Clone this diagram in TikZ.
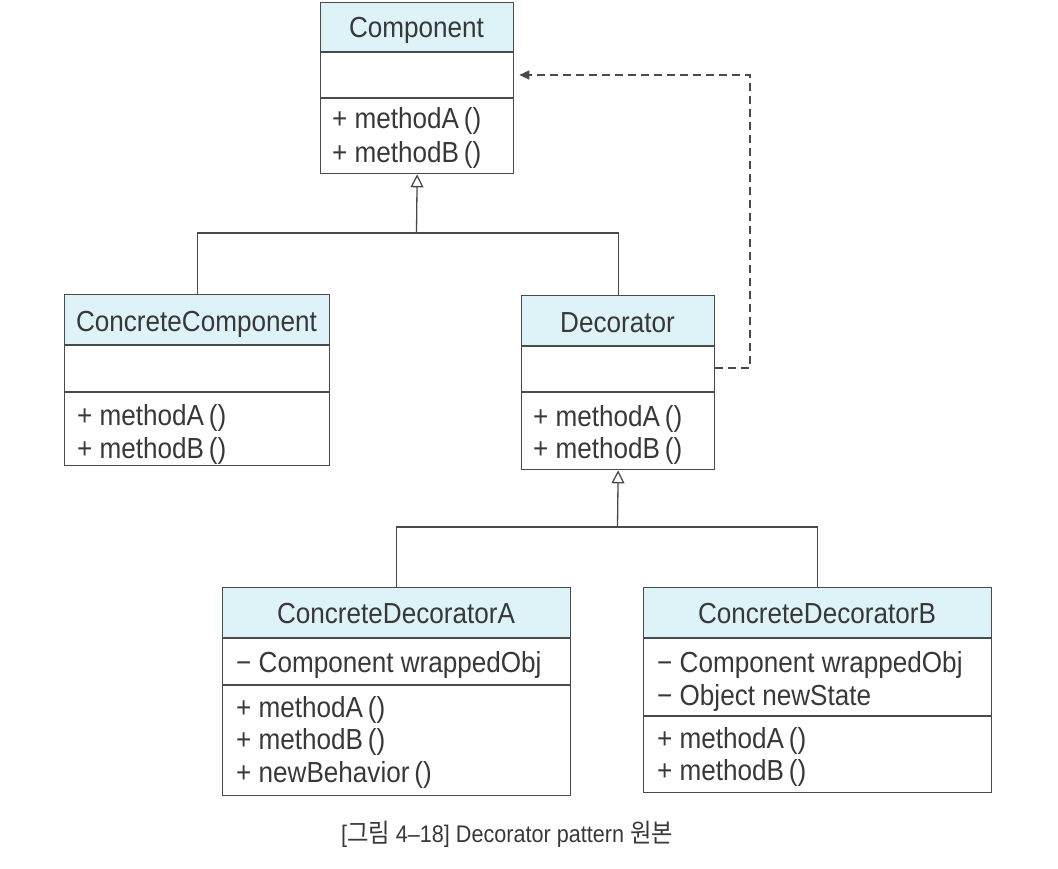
\documentclass[tikz,border=0pt]{standalone}
\usepackage{fontspec}
\setmainfont{Liberation Sans}[FakeStretch=0.9]
\newfontfamily\krfont{Noto Sans CJK KR}[FakeStretch=0.9, Scale=1.08]
\usetikzlibrary{arrows.meta}
\definecolor{hdr}{HTML}{DDF3F8}
\definecolor{ln}{HTML}{4A4A4A}
\definecolor{tx}{HTML}{383838}
\tikzset{
  box/.style={draw=ln, line width=1.3pt, inner sep=0pt, anchor=north west},
  sepline/.style={draw=ln, line width=1.3pt},
  titletext/.style={anchor=base, inner sep=0pt, text=tx, font=\fontsize{29}{34}\selectfont},
  memtext/.style={anchor=base west, inner sep=0pt, text=tx, font=\fontsize{29}{34}\selectfont},
  conn/.style={draw=ln, line width=1.3pt},
  inh/.style={conn, -{Triangle[open, length=13pt, width=13pt, line width=1.3pt]}},
  dep/.style={conn, dash pattern=on 8pt off 5pt, -{Triangle[length=10pt, width=9pt]}, shorten >=5pt},
}
% #1 name, #2 x1, #3 y1, #4 x2, #5 y2, #6 header line, #7 attribute line
\newcommand\umlclassbox[7]{%
  \fill[hdr] (#2,#3) rectangle (#4,#6);
  \node[box, minimum width={#4-#2}, minimum height={#5-#3}] (#1) at (#2,#3) {};
  \draw[sepline] (#2,#6) -- (#4,#6) (#2,#7) -- (#4,#7);
}
\begin{document}
\begin{tikzpicture}[x=1pt, y=-1pt]
\useasboundingbox (0,0) rectangle (1058,868);

% Component
\umlclassbox{comp}{320}{2}{513}{173}{52}{98}
\node[titletext] (compT) at (416.5,37) {Component};
\node[memtext] (compM1) at (332,128) {+ methodA\,()};
\node[memtext] (compM2) at (332,162) {+ methodB\,()};

% ConcreteComponent
\umlclassbox{cc}{64}{294}{329}{465}{345}{392}
\node[titletext] (ccT) at (196.5,331) {ConcreteComponent};
\node[memtext] (ccM1) at (77,425) {+ methodA\,()};
\node[memtext] (ccM2) at (77,458) {+ methodB\,()};

% Decorator
\umlclassbox{dec}{521}{295}{714}{469}{346}{392}
\node[titletext] (decT) at (617.5,332) {Decorator};
\node[memtext] (decM1) at (533,426) {+ methodA\,()};
\node[memtext] (decM2) at (533,458) {+ methodB\,()};

% ConcreteDecoratorA
\umlclassbox{cda}{222}{587}{570}{795}{638}{685}
\node[titletext] (cdaT) at (396,623) {ConcreteDecoratorA};
\node[memtext] (cdaA1) at (236,672) {− Component wrappedObj};
\node[memtext] (cdaM1) at (236,717) {+ methodA\,()};
\node[memtext] (cdaM2) at (236,749) {+ methodB\,()};
\node[memtext] (cdaM3) at (236,782) {+ newBehavior\,()};

% ConcreteDecoratorB
\umlclassbox{cdb}{643}{587}{991}{792}{638}{716}
\node[titletext] (cdbT) at (817,623) {ConcreteDecoratorB};
\node[memtext] (cdbA1) at (657,672) {− Component wrappedObj};
\node[memtext] (cdbA2) at (657,705) {− Object newState};
\node[memtext] (cdbM1) at (657,748) {+ methodA\,()};
\node[memtext] (cdbM2) at (657,780) {+ methodB\,()};

% inheritance: Component
\coordinate (j1) at (416.5,233);
\draw[conn] (cc.north) |- (j1) -| (dec.north);
\draw[inh] (j1) -- (comp.south);

% inheritance: Decorator
\coordinate (j2) at (617.5,527);
\draw[conn] (cda.north) |- (j2) -| (cdb.north);
\draw[inh] (j2) -- (dec.south);

% dependency (dashed)
\coordinate (dk) at (750,75);
\draw[dep] ([yshift=-73pt]dec.north east) -| (dk) -- ([yshift=-73pt]comp.north east);

% caption
\node[anchor=base, inner sep=0pt, text=tx, font=\fontsize{24}{28}\selectfont] (cap) at (507,842)
  {[{\krfont 그림} 4–18] Decorator pattern {\krfont 원본}};
\end{tikzpicture}
\end{document}
